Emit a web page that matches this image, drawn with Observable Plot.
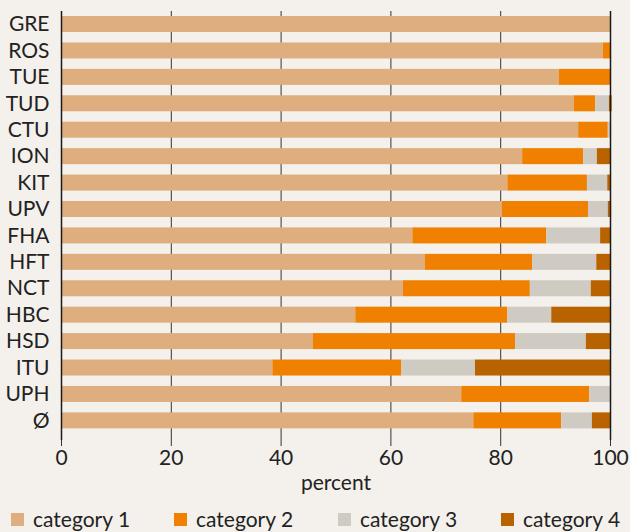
<!DOCTYPE html>
<html>
<head>
<meta charset="utf-8">
<script src="https://cdn.jsdelivr.net/npm/d3@7"></script>
<script src="https://cdn.jsdelivr.net/npm/@observablehq/plot@0.6"></script>
<style>
  html, body { margin: 0; padding: 0; background: #f4f1ec; }
  body { position: relative; width: 630px; height: 532px; overflow: hidden; font-family: Lato, "Open Sans", sans-serif; color: #222; }
  #chart { position: absolute; left: 0; top: 0; }
  .legend { position: absolute; left: 0; top: 0; width: 630px; height: 532px; font-size: 21px; line-height: 22px; white-space: nowrap; pointer-events: none; }
  .legend .sw { position: absolute; top: 513px; width: 13px; height: 13px; }
  .legend .lab { position: absolute; top: 507.5px; }
</style>
</head>
<body>
<div id="chart"></div>
<script>
const schools = ["GRE","ROS","TUE","TUD","CTU","ION","KIT","UPV","FHA","HFT","NCT","HBC","HSD","ITU","UPH","Ø"];
const cat1 = [100, 98.7, 90.7, 93.4, 94.2, 84.0, 81.3, 80.3, 64.0, 66.3, 62.3, 53.6, 45.9, 38.5, 72.9, 75.1];
const cat2 = [0, 1.3, 9.3, 3.9, 5.4, 11.1, 14.5, 15.7, 24.4, 19.5, 23.1, 27.7, 36.8, 23.5, 23.3, 16.0];
const cat3 = [0, 0, 0, 2.5, 0.6, 2.5, 3.7, 3.6, 9.8, 11.7, 11.1, 8.0, 12.9, 13.4, 4.0, 5.6];
const cat4 = [0, 0, 0, 0.5, 0, 2.4, 0.5, 0.6, 1.8, 2.5, 3.5, 10.7, 4.4, 24.6, 0, 3.3];
const categories = ["category 1", "category 2", "category 3", "category 4"];
const colors = ["#deae7e", "#f08000", "#d0cbc2", "#b96300"];
const xTicks = [0, 20, 40, 60, 80, 100];

const series = [cat1, cat2, cat3, cat4];
const data = schools.flatMap((s, i) => series.map((arr, j) => ({school: s, category: categories[j], value: arr[i]})));

const chart = Plot.plot({
  width: 630,
  height: 500,
  marginTop: 11,
  marginLeft: 61,
  marginRight: 20,
  marginBottom: 60,
  style: {background: "transparent", fontFamily: "Lato, 'Open Sans', sans-serif", fontSize: "21px", color: "#222"},
  x: {domain: [0, 100]},
  y: {domain: schools, range: [11, 433.4], paddingInner: 0.394, paddingOuter: 0.19, round: false},
  color: {domain: categories, range: colors},
  marks: [
    Plot.ruleX(xTicks.filter(d => d > 0 && d < 100), {stroke: "#333", strokeWidth: 1}),
    Plot.barX(data, {x: "value", y: "school", fill: "category"}),
    Plot.ruleX([0, 100], {stroke: "#1a1a1a", strokeWidth: 1.5}),
    Plot.axisX({ticks: xTicks, tickSize: 6, tickPadding: 4, stroke: "#333", label: "percent", labelArrow: "none", labelAnchor: "center", labelOffset: 49, fill: "#222"}),
    Plot.axisY({tickSize: 0, tickPadding: 12, label: null, fill: "#222"})
  ]
});
document.getElementById("chart").appendChild(chart);

const legend = document.createElement("div");
legend.className = "legend";
const swatchLeft = [11, 174, 338, 501];
categories.forEach((c, i) => {
  const sw = document.createElement("div");
  sw.className = "sw";
  sw.style.left = swatchLeft[i] + "px";
  sw.style.background = colors[i];
  const t = document.createElement("span");
  t.className = "lab";
  t.style.left = (swatchLeft[i] + 22) + "px";
  t.textContent = c;
  legend.appendChild(sw);
  legend.appendChild(t);
});
document.body.appendChild(legend);
</script>
</body>
</html>
